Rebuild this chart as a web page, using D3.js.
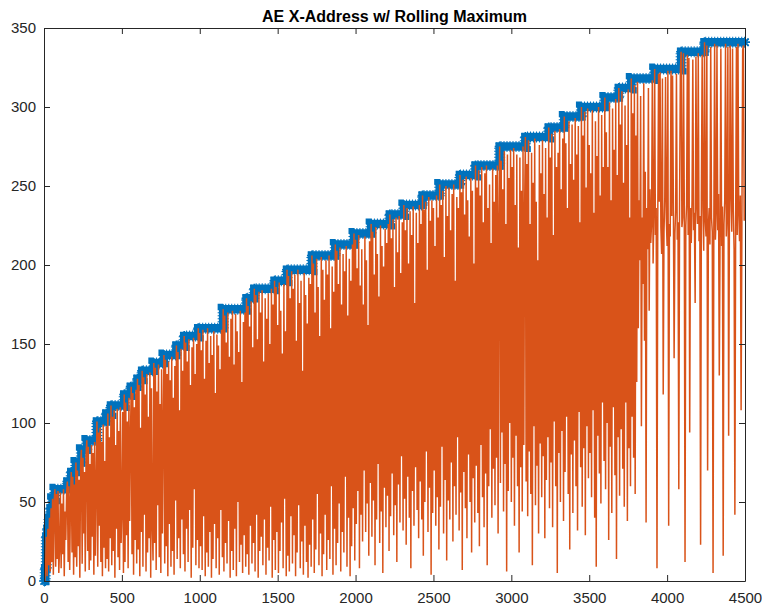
<!DOCTYPE html>
<html><head><meta charset="utf-8">
<script src="https://cdn.jsdelivr.net/npm/d3@7/dist/d3.min.js"></script>
<style>
body{margin:0;background:#fff}
text{font-family:"Liberation Sans",Arial,Helvetica,sans-serif}
</style>
</head><body>
<svg id="chart" width="762" height="608"></svg>
<script>
const chartTitle = "AE X-Address w/ Rolling Maximum";
const xTicks = [0,500,1000,1500,2000,2500,3000,3500,4000,4500];
const yTicks = [0,50,100,150,200,250,300,350];

// rolling maximum: sample index where a new maximum begins, and its value
const maxStepX = [0,8,15,22,32,42,55,70,150,175,205,240,275,340,400,430,515,557,600,630,705,770,850,900,990,1150,1300,1350,1480,1560,1720,1870,1990,2100,2220,2310,2430,2540,2670,2770,2925,3090,3240,3340,3450,3600,3690,3770,3920,4090,4240,4500];
const maxStepY = [0,8,28,33,40,46,52,58,63,69,75,83,89,101,106,111,118,123,128,133,138,143,149,155,160,172,179,185,190,197,206,213,220,226,232,238,244,251,257,263,275,281,287,294,300,306,312,318,324,335,341,341];

// raw X-address, one reading every 5 samples
const sampleStep = 5;
const addrValues = [
0,0,8,28,3,33,10,40,6,46,12,52,4,50,58,9,55,14,57,5,
21,56,8,49,17,58,3,44,26,55,63,12,60,7,52,69,18,66,4,61,
15,75,9,70,22,64,2,73,83,11,78,30,69,6,80,89,19,85,7,74,
13,86,28,81,4,88,16,62,101,9,94,35,97,12,88,3,99,21,76,8,
98,14,106,6,91,27,111,10,104,19,108,2,86,33,109,15,95,7,110,24,
45,107,5,118,12,113,29,101,8,116,38,92,123,17,119,4,110,26,121,11,
128,20,124,3,97,31,133,9,129,42,118,6,131,18,104,27,132,2,122,36,
13,138,24,135,7,120,48,137,15,112,5,134,30,99,143,11,140,22,131,3,
139,36,127,9,142,19,116,4,136,51,149,14,145,27,108,8,147,39,133,17,
155,6,151,33,139,12,153,45,124,2,148,21,154,58,131,10,150,26,160,8,
157,22,146,7,159,41,128,3,152,18,160,9,138,31,155,2,143,14,158,36,
119,8,156,27,149,4,134,45,159,15,172,6,168,24,151,11,170,38,142,2,
166,19,171,7,137,33,169,3,158,50,145,12,171,23,126,5,164,29,170,9,
179,17,174,4,161,35,177,11,148,24,185,6,181,42,153,2,183,19,170,28,
184,10,139,39,179,4,166,21,182,13,150,47,185,2,175,26,190,7,186,31,
162,5,189,19,171,37,144,8,188,52,158,3,197,16,193,6,179,41,196,11,
185,29,194,3,152,18,197,48,176,8,190,25,133,4,195,35,181,12,163,2,
192,23,188,9,206,39,201,5,170,20,204,55,186,10,155,30,205,3,197,17,
178,42,203,7,194,26,206,14,160,60,199,4,183,33,213,10,209,24,188,49,
211,6,175,31,207,18,196,66,212,9,168,40,204,3,190,22,213,46,220,13,
216,36,198,57,219,8,187,42,210,25,175,70,218,31,203,49,162,16,215,62,
226,28,221,51,194,10,224,39,207,74,180,24,225,44,212,5,199,59,223,34,
214,54,226,19,232,41,217,68,229,29,186,48,230,12,208,61,231,37,195,79,
227,32,238,52,222,23,236,66,201,40,234,8,219,57,237,35,176,72,233,45,
214,27,238,63,226,39,244,16,235,50,240,82,197,31,243,59,228,4,241,43,
236,70,212,35,244,53,230,20,251,47,238,85,247,30,205,64,250,13,231,51,
249,39,222,75,245,25,251,60,190,42,243,91,236,32,257,56,246,7,254,69,
232,46,256,27,241,80,218,50,255,18,247,65,201,37,263,73,249,43,260,22,
244,86,262,53,227,34,258,68,263,10,236,60,251,96,214,40,261,71,240,48,
257,78,263,30,229,275,62,266,94,248,44,272,74,226,6,270,57,255,100,273,
50,262,78,274,35,238,92,270,60,211,18,268,72,247,44,275,86,233,281,63,
264,41,279,82,226,55,271,10,252,98,280,48,240,73,203,30,276,87,258,53,
279,79,245,27,274,64,230,91,287,46,268,75,283,34,219,101,285,60,262,5,
271,81,286,50,248,95,280,38,294,69,277,104,236,55,291,20,264,80,289,43,
254,89,293,60,270,32,288,107,227,72,300,47,282,84,297,29,249,98,299,65,
276,81,258,53,298,108,233,40,291,9,269,92,300,68,244,49,295,113,262,76,
306,58,284,100,262,26,303,85,241,43,299,110,273,67,305,14,257,91,312,54,
289,96,310,71,252,47,301,113,276,38,311,84,230,60,318,104,296,78,314,55,
282,126,316,160,241,203,307,98,230,188,315,152,259,37,236,210,312,171,248,214,
226,317,201,232,324,219,236,8,228,321,240,322,224,207,318,118,221,242,319,229,
212,323,35,226,218,323,231,320,244,141,220,235,321,216,227,58,239,322,335,224,
230,334,243,12,225,238,333,219,331,94,236,214,241,330,222,233,176,332,240,226,
334,215,231,23,244,333,236,209,341,228,218,339,70,225,236,213,338,230,221,5,
227,340,216,233,339,222,245,130,219,337,212,237,16,226,241,340,218,234,338,92,
229,339,243,221,337,235,210,42,226,338,219,340,232,215,244,108,224,336,339,228
];

const W = 762, H = 608;
const M = {left:44, right:745, top:28, bottom:581};
const axisColor = "#262626";
const blue = "#0072BD", orange = "#D95319";

const svg = d3.select("#chart");
svg.append("rect").attr("width",W).attr("height",H).attr("fill","#fff");

const x = d3.scaleLinear().domain([0,4500]).range([M.left,M.right]);
const y = d3.scaleLinear().domain([0,350]).range([M.bottom,M.top]);

const plot = svg.append("g");

// rolling maximum band (blue, star markers)
const maxPts = maxStepX.map((v,i)=>[v,maxStepY[i]]);
const stepLine = d3.line().x(d=>x(d[0])).y(d=>y(d[1])).curve(d3.curveStepAfter);
plot.append("path").datum(maxPts).attr("d",stepLine)
  .attr("fill","none").attr("stroke",blue).attr("stroke-width",8.5)
  .attr("stroke-linejoin","miter");
plot.append("path").datum(maxPts).attr("d",stepLine)
  .attr("fill","none").attr("stroke",blue).attr("stroke-width",11)
  .attr("stroke-dasharray","1,2").attr("stroke-linejoin","miter");

const r = 5;
const starPath = `M0,${-r}L0,${r}M${-r},0L${r},0M${-r*0.72},${-r*0.72}L${r*0.72},${r*0.72}M${-r*0.72},${r*0.72}L${r*0.72},${-r*0.72}`;
const corners = [];
maxPts.forEach((p,i)=>{
  corners.push(p);
  if(i+1<maxPts.length) corners.push([maxPts[i+1][0],p[1]]);
});
plot.append("g").selectAll("path").data(corners).join("path")
  .attr("transform",d=>`translate(${x(d[0])},${y(d[1])})`)
  .attr("d",starPath).attr("fill","none").attr("stroke",blue).attr("stroke-width",1.6);

// raw X-address (orange)
const rawLine = d3.line().x((d,i)=>x(i*sampleStep)).y(d=>y(d));
plot.append("path").datum(addrValues).attr("d",rawLine)
  .attr("fill","none").attr("stroke",orange).attr("stroke-width",1.5)
  .attr("stroke-linejoin","bevel");

// axes (MATLAB box style, ticks inside)
function styleAxis(g){
  g.selectAll("path.domain").attr("stroke",axisColor).attr("stroke-width",1);
  g.selectAll(".tick line").attr("stroke",axisColor).attr("stroke-width",1);
  g.selectAll("text").attr("fill",axisColor).attr("font-size",15);
}
svg.append("g").attr("transform",`translate(0,${M.bottom})`)
  .call(d3.axisBottom(x).tickValues(xTicks).tickSizeInner(-6).tickSizeOuter(0).tickPadding(11).tickFormat(d3.format("d")))
  .call(styleAxis);
svg.append("g").attr("transform",`translate(${M.left},0)`)
  .call(d3.axisLeft(y).tickValues(yTicks).tickSizeInner(-6).tickSizeOuter(0).tickPadding(8).tickFormat(d3.format("d")))
  .call(styleAxis);
svg.append("g").attr("transform",`translate(0,${M.top})`)
  .call(d3.axisTop(x).tickValues(xTicks).tickSizeInner(-6).tickSizeOuter(0).tickFormat(""))
  .call(styleAxis);
svg.append("g").attr("transform",`translate(${M.right},0)`)
  .call(d3.axisRight(y).tickValues(yTicks).tickSizeInner(-6).tickSizeOuter(0).tickFormat(""))
  .call(styleAxis);

svg.append("text").attr("x",(M.left+M.right)/2).attr("y",22)
  .attr("text-anchor","middle").attr("font-weight","bold").attr("font-size",16)
  .attr("fill","#000").text(chartTitle);
</script>
</body></html>
